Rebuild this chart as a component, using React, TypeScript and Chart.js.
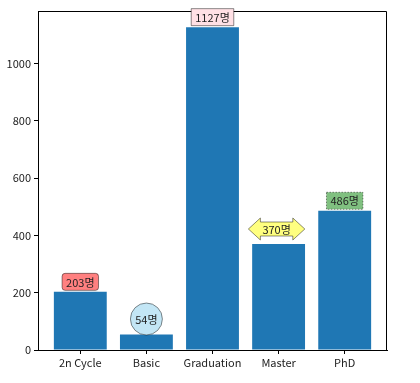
import React, { useEffect, useRef } from "react";
import { Chart, registerables } from "chart.js";
Chart.register(...registerables);

const categories = ["2n Cycle", "Basic", "Graduation", "Master", "PhD"];
const counts = [203, 54, 1127, 370, 486];
const labelSuffix = "명";
const yTicks = [0, 200, 400, 600, 800, 1000];
const labelShapes = ["round", "circle", "square", "darrow", "dotted"];
const labelFills = ["#ff8080", "#c3e6f5", "#ffe0e5", "#ffff80", "#80c080"];

const FONT = "'Noto Sans CJK KR', 'Open Sans', sans-serif";

const annotatePlugin = {
  id: "annot",
  afterDatasetsDraw(chart: any) {
    const ctx = chart.ctx;
    const xs = chart.scales.x;
    const ys = chart.scales.y;
    const ca = chart.chartArea;
    ctx.save();
    // top & right spines
    ctx.strokeStyle = "#000";
    ctx.lineWidth = 1;
    ctx.beginPath();
    ctx.moveTo(Math.round(ca.left) + 0.5, Math.round(ca.top) + 0.5);
    ctx.lineTo(Math.round(ca.right) - 0.5, Math.round(ca.top) + 0.5);
    ctx.lineTo(Math.round(ca.right) - 0.5, Math.round(ca.bottom) + 0.5);
    ctx.stroke();

    ctx.font = `11px ${FONT}`;
    ctx.textAlign = "center";
    ctx.textBaseline = "middle";
    counts.forEach((v, i) => {
      const x = xs.getPixelForValue(i);
      const top = ys.getPixelForValue(v);
      const text = `${v}${labelSuffix}`;
      const tw = ctx.measureText(text).width;
      const shape = labelShapes[i];
      ctx.fillStyle = labelFills[i];
      ctx.strokeStyle = "rgba(0,0,0,0.45)";
      ctx.lineWidth = 1;
      ctx.setLineDash([]);
      let cy = top - 10;
      if (shape === "round" || shape === "square" || shape === "dotted") {
        const w = tw + 8;
        const h = 17;
        cy = top - 10;
        const x0 = x - w / 2;
        const y0 = cy - h / 2;
        ctx.beginPath();
        if (shape === "round") {
          (ctx as any).roundRect(x0, y0, w, h, 3);
        } else {
          ctx.rect(x0, y0, w, h);
        }
        ctx.fill();
        if (shape === "dotted") ctx.setLineDash([1.5, 1.5]);
        ctx.stroke();
        ctx.setLineDash([]);
      } else if (shape === "circle") {
        cy = top - 15.5;
        ctx.beginPath();
        ctx.arc(x, cy, 16, 0, Math.PI * 2);
        ctx.fill();
        ctx.stroke();
      } else if (shape === "darrow") {
        cy = top - 15;
        const cx = x - 2;
        const bw = tw / 2 + 2;
        const bh = 7;
        const hh = 11;
        const hl = 12;
        ctx.beginPath();
        ctx.moveTo(cx - bw - hl, cy);
        ctx.lineTo(cx - bw, cy - hh);
        ctx.lineTo(cx - bw, cy - bh);
        ctx.lineTo(cx + bw, cy - bh);
        ctx.lineTo(cx + bw, cy - hh);
        ctx.lineTo(cx + bw + hl, cy);
        ctx.lineTo(cx + bw, cy + hh);
        ctx.lineTo(cx + bw, cy + bh);
        ctx.lineTo(cx - bw, cy + bh);
        ctx.lineTo(cx - bw, cy + hh);
        ctx.closePath();
        ctx.fill();
        ctx.stroke();
        ctx.fillStyle = "#222";
        ctx.fillText(text, cx, cy + 0.5);
        return;
      }
      ctx.fillStyle = "#222";
      ctx.fillText(text, x, cy + 0.5);
    });
    ctx.restore();
  },
};

export default function App() {
  const ref = useRef<HTMLCanvasElement>(null);
  useEffect(() => {
    const ymax = Math.max(...counts) * 1.05;
    const chart = new Chart(ref.current!, {
      type: "bar",
      data: {
        datasets: [
          {
            data: counts.map((v, i) => ({ x: i, y: v })),
            backgroundColor: "#1f77b4",
            borderWidth: 0,
            barPercentage: 0.8,
            categoryPercentage: 1,
          },
        ],
      },
      options: {
        responsive: false,
        animation: false,
        layout: { padding: { left: 0, right: 33, top: 11, bottom: 0 } },
        plugins: { legend: { display: false }, tooltip: { enabled: false } },
        scales: {
          x: {
            type: "linear",
            offset: false,
            min: -0.64,
            max: 4.64,
            afterBuildTicks: (s: any) => {
              s.ticks = categories.map((_, i) => ({ value: i }));
            },
            afterFit: (s: any) => {
              s.height = 33;
            },
            ticks: {
              autoSkip: false,
              maxRotation: 0,
              padding: 2,
              color: "#222",
              font: { family: FONT, size: 11 },
              callback: (v: any) => categories[v as number],
            },
            grid: { offset: false, drawOnChartArea: false, drawTicks: true, tickLength: 4, color: "#000" },
            border: { color: "#000", width: 1 },
          },
          y: {
            min: 0,
            max: ymax,
            afterBuildTicks: (s: any) => {
              s.ticks = yTicks.map((v) => ({ value: v }));
            },
            afterFit: (s: any) => {
              s.width = 38;
            },
            ticks: {
              padding: 3,
              color: "#222",
              font: { family: FONT, size: 11 },
              callback: (v: any) => String(v),
            },
            grid: { drawOnChartArea: false, drawTicks: true, tickLength: 4, color: "#000" },
            border: { color: "#000", width: 1 },
          },
        },
      },
      plugins: [annotatePlugin],
    } as any);
    return () => chart.destroy();
  }, []);
  return (
    <div style={{ position: "absolute", left: 0, top: 0, width: 420, height: 383, background: "#fff" }}>
      <canvas ref={ref} width={420} height={383} />
    </div>
  );
}
